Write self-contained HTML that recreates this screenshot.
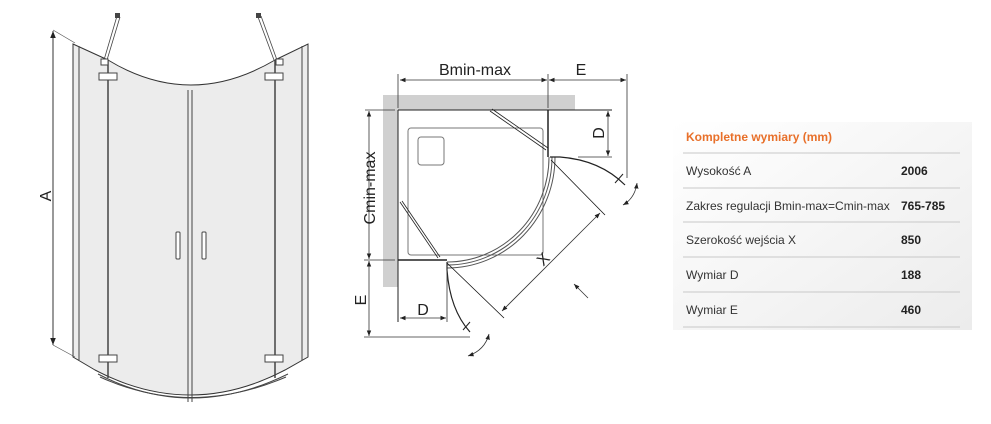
<!DOCTYPE html>
<html><head><meta charset="utf-8"><style>
html,body{margin:0;padding:0;background:#fff;width:991px;height:424px;overflow:hidden}
svg{position:absolute;left:0;top:0}
.t{font-family:"Liberation Sans",Arial,sans-serif;font-size:12px;fill:#333}
.b{font-weight:bold;fill:#222}
.d{font-family:"Liberation Sans",Arial,sans-serif;font-size:16px;fill:#222}
</style></head><body>
<svg width="991" height="424" viewBox="0 0 991 424">
<defs>
<marker id="ar" viewBox="0 0 10 10" refX="10" refY="5" markerWidth="7" markerHeight="7" orient="auto-start-reverse"><path d="M0,1 L10,5 L0,9 z" fill="#222"/></marker>
<linearGradient id="tg" x1="0" y1="0" x2="1" y2="1"><stop offset="0" stop-color="#ffffff"/><stop offset="1" stop-color="#ececec"/></linearGradient>
</defs>

<!-- LEFT SHOWER -->
<g stroke="#333" stroke-width="1" fill="#ececec">
<path d="M73,44 L108,60 Q190,110 275,60 L308,44 L308,357 L285,370 Q190,420 95,370 L73,357 Z"/>
</g>
<g stroke="#444" stroke-width="1" fill="none">
<line x1="79" y1="46" x2="79" y2="360"/>
<line x1="302" y1="46" x2="302" y2="360"/>
<line x1="108" y1="60" x2="108" y2="378" stroke-width="1.5"/>
<line x1="275" y1="60" x2="275" y2="378" stroke-width="1.5"/>
<line x1="188" y1="90" x2="188" y2="402"/>
<line x1="192" y1="90" x2="192" y2="402"/>
<path d="M98,374 Q190,422 288,374"/>
<path d="M100,377 Q190,418 286,377"/>
<line x1="117" y1="16" x2="104" y2="60" stroke-width="0.8"/>
<line x1="120" y1="17" x2="107" y2="60" stroke-width="0.8"/>
<line x1="258" y1="17" x2="274" y2="60" stroke-width="0.8"/>
<line x1="261" y1="16" x2="277" y2="60" stroke-width="0.8"/>
</g>
<rect x="115" y="13" width="5" height="5" fill="#444"/><rect x="256" y="13" width="5" height="5" fill="#444"/>
<g stroke="#444" fill="#fff" stroke-width="1">
<rect x="101" y="59" width="7" height="6"/><rect x="276" y="59" width="7" height="6"/>
<rect x="99" y="73" width="18" height="7"/><rect x="265" y="73" width="18" height="7"/>
<rect x="99" y="355" width="18" height="7"/><rect x="265" y="355" width="18" height="7"/>
<rect x="176" y="232" width="4" height="27" rx="1"/><rect x="202" y="232" width="4" height="27" rx="1"/>
</g>
<line x1="53" y1="31" x2="53" y2="345" stroke="#333" marker-start="url(#ar)" marker-end="url(#ar)"/>
<line x1="53" y1="30" x2="75" y2="43" stroke="#555" stroke-width="0.7"/>
<line x1="53" y1="345" x2="75" y2="357" stroke="#555" stroke-width="0.7"/>
<text class="d" transform="translate(51,196) rotate(-90)" text-anchor="middle">A</text>

<!-- MIDDLE PLAN -->
<rect x="383" y="95" width="192" height="15" fill="#d0d0d0"/>
<rect x="383" y="95" width="15" height="192" fill="#d0d0d0"/>
<g stroke="#222" fill="none">
<line x1="398" y1="110" x2="612" y2="110"/>
<line x1="398" y1="110" x2="398" y2="322"/>
<rect x="408" y="128" width="135" height="127" rx="3" stroke="#777"/>
<rect x="418" y="137" width="26" height="28" rx="3" stroke="#777"/>
<path d="M549,157 A102,105 0 0 1 447,262" stroke="#555"/>
<path d="M552,157 A105,108 0 0 1 447,265" stroke="#555"/>
<path d="M555,157 A108,111 0 0 1 447,268" stroke="#555"/>
<line x1="398" y1="260" x2="447" y2="260" stroke-width="1.5"/>
<line x1="548" y1="110" x2="548" y2="157" stroke-width="1.5"/>
<line x1="490" y1="111" x2="546" y2="150" stroke-width="0.8"/>
<line x1="492" y1="109" x2="548" y2="148" stroke-width="0.8"/>
<line x1="400" y1="202" x2="438" y2="258" stroke-width="0.8"/>
<line x1="402" y1="201" x2="440" y2="257" stroke-width="0.8"/>
<path d="M550,157 L560,157 Q600,160 625,185" stroke-width="1.2"/>
<path d="M447,262 L447,270 Q450,310 470,332" stroke-width="1.2"/>
<line x1="615" y1="183" x2="623" y2="174"/><line x1="463" y1="330" x2="470" y2="322"/>
</g>
<g stroke="#333" stroke-width="0.8" fill="none">
<line x1="400" y1="80" x2="547" y2="80" marker-start="url(#ar)" marker-end="url(#ar)"/>
<line x1="549" y1="80" x2="626" y2="80" marker-start="url(#ar)" marker-end="url(#ar)"/>
<line x1="398" y1="74" x2="398" y2="108"/>
<line x1="548" y1="74" x2="548" y2="108"/>
<line x1="627" y1="74" x2="627" y2="178"/>
<line x1="369" y1="111" x2="369" y2="259" marker-start="url(#ar)" marker-end="url(#ar)"/>
<line x1="369" y1="261" x2="369" y2="336" marker-start="url(#ar)" marker-end="url(#ar)"/>
<line x1="364" y1="260" x2="395" y2="260"/>
<line x1="364" y1="337" x2="470" y2="337"/>
<line x1="365" y1="110" x2="395" y2="110"/>
<line x1="608" y1="111" x2="608" y2="156" marker-start="url(#ar)" marker-end="url(#ar)"/>
<line x1="578" y1="157" x2="612" y2="157"/>
<line x1="400" y1="318" x2="446" y2="318" marker-start="url(#ar)" marker-end="url(#ar)"/>
<line x1="447" y1="262" x2="447" y2="322"/>
<line x1="502" y1="311" x2="600" y2="213" marker-start="url(#ar)" marker-end="url(#ar)"/>
<line x1="551" y1="160" x2="605" y2="215" stroke="#111"/>
<line x1="447" y1="263" x2="504" y2="318" stroke="#111"/>
<line x1="588" y1="298" x2="574" y2="284" marker-end="url(#ar)"/>
<path d="M623,205 Q635,198 637,183" marker-start="url(#ar)" marker-end="url(#ar)"/>
<path d="M468,356 Q485,350 489,334" marker-start="url(#ar)" marker-end="url(#ar)"/>
</g>
<text class="d" x="475" y="75" text-anchor="middle">Bmin-max</text>
<text class="d" x="581" y="75" text-anchor="middle">E</text>
<text class="d" transform="translate(375,188) rotate(-90)" text-anchor="middle">Cmin-max</text>
<text class="d" transform="translate(366,300) rotate(-90)" text-anchor="middle">E</text>
<text class="d" transform="translate(604,133) rotate(-90)" text-anchor="middle">D</text>
<text class="d" x="423" y="315" text-anchor="middle">D</text>
<text class="d" transform="translate(547,263) rotate(-45)" text-anchor="middle">X</text>

<!-- TABLE -->
<rect x="673" y="122" width="299" height="208" fill="url(#tg)"/>
<text x="686" y="141" font-family="Liberation Sans,Arial,sans-serif" font-size="12" font-weight="bold" fill="#e8702a">Kompletne wymiary (mm)</text>
<g stroke="#c8c8c8" stroke-width="1">
<line x1="683" y1="153" x2="960" y2="153"/>
<line x1="683" y1="188" x2="960" y2="188"/>
<line x1="683" y1="222" x2="960" y2="222"/>
<line x1="683" y1="257" x2="960" y2="257"/>
<line x1="683" y1="292" x2="960" y2="292"/>
<line x1="683" y1="327" x2="960" y2="327"/>
</g>
<text class="t" x="686" y="175">Wysokość A</text><text class="t b" x="901" y="175">2006</text>
<text class="t" x="686" y="210">Zakres regulacji Bmin-max=Cmin-max</text><text class="t b" x="901" y="210">765-785</text>
<text class="t" x="686" y="244">Szerokość wejścia X</text><text class="t b" x="901" y="244">850</text>
<text class="t" x="686" y="279">Wymiar D</text><text class="t b" x="901" y="279">188</text>
<text class="t" x="686" y="314">Wymiar E</text><text class="t b" x="901" y="314">460</text>
</svg>
</body></html>
